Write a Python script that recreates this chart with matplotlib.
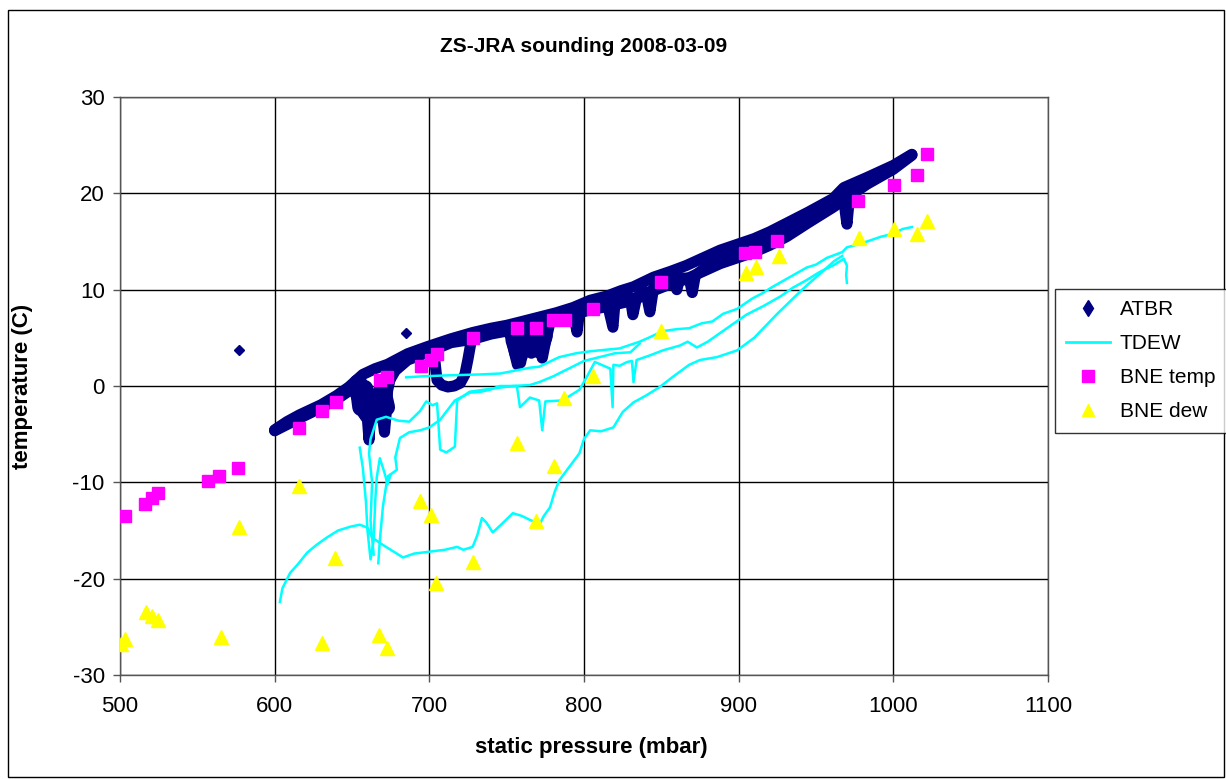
import matplotlib
matplotlib.use("Agg")
import matplotlib.pyplot as plt
from matplotlib.lines import Line2D
from matplotlib.patches import Rectangle

plt.rcParams['font.family'] = ['Liberation Sans', 'DejaVu Sans']
plt.rcParams['axes.unicode_minus'] = False

# ---------------- data ----------------
title = "ZS-JRA sounding 2008-03-09"
xlabel = "static pressure (mbar)"
ylabel = "temperature (C)"
x_ticks = [500, 600, 700, 800, 900, 1000, 1100]
y_ticks = [-30, -20, -10, 0, 10, 20, 30]
legend_labels = ["ATBR", "TDEW", "BNE temp", "BNE dew"]

# ATBR (aircraft temperature) - several passes forming a dense band
atbr_p_upper = [600, 608, 616, 630, 640, 648, 657, 665, 673, 686, 699, 714, 728, 740, 750, 760, 771,
                782, 793, 804, 815, 824, 832, 845, 856, 866, 877, 888, 899, 910, 920, 931, 945,
                961, 968, 983, 1000, 1012]
atbr_t_upper = [-4.55, -3.7, -3.0, -1.95, -1.0, -0.1, 1.2, 1.8, 2.25, 3.35, 4.1, 4.9, 5.55, 6.0, 6.3, 6.7, 7.15,
                7.6, 8.15, 8.9, 9.35, 9.9, 10.3, 11.3, 11.9, 12.5, 13.3, 14.1, 14.7, 15.3, 16.0, 16.9, 18.05,
                19.45, 20.6, 21.65, 22.9, 24.05]
atbr_p_lower = [600, 616, 630, 640, 650, 652, 655, 658, 661, 664, 667, 670, 674, 678, 686, 699, 714,
                728, 740, 750, 771, 793, 804, 815, 832, 845, 856, 866, 877, 888, 899, 910, 920, 931,
                945, 961, 983, 1000, 1012]
atbr_t_lower = [-4.65, -3.35, -2.25, -1.4, -0.3, 0.2, -2.0, -1.0, -1.5, -2.0, -0.5, -1.5, 0.5, 1.6, 2.7, 3.5, 4.5,
                4.85, 5.4, 5.7, 6.45, 7.45, 7.9, 8.25, 8.9, 9.9, 10.6, 11.1, 11.9, 12.7, 13.3, 13.9, 14.6, 15.5,
                16.95, 18.55, 20.95, 22.5, 23.95]
atbr_p_mid = [600, 616, 630, 640, 650, 654, 657, 660, 661, 662, 665, 668, 670, 671, 672, 673, 675, 676,
              686, 699, 703, 704, 705, 708, 712, 716, 720, 723, 725, 727, 728, 750, 753, 755, 757, 759,
              761, 764, 766, 768, 771, 773, 775, 778, 793, 795.5, 797, 815, 818.7, 820, 830, 831.6, 834,
              840, 842.6, 845, 858, 860, 862, 868, 870, 872, 888, 910, 931, 945, 961, 968, 969, 970,
              971, 972, 983, 1000, 1012]
atbr_t_mid = [-4.6, -3.2, -2.1, -1.2, 0.0, -1.5, -2.8, -3.5, -5.6, -3.0, -1.0, -2.5, -3.5, -4.8, -3.0, -0.5,
              1.0, 1.9, 3.0, 3.8, 3.6, 2.0, 0.6, 0.1, -0.1, 0.0, 0.3, 1.2, 2.8, 4.6, 5.2, 6.0, 5.0, 3.5,
              2.2, 2.4, 4.2, 5.2, 3.4, 5.0, 5.5, 2.9, 4.5, 6.6, 7.6, 5.6, 7.6, 8.6, 6.1, 8.6, 9.1, 7.4,
              9.2, 9.8, 7.7, 10.2, 11.0, 10.0, 11.2, 11.2, 9.7, 11.5, 13.4, 14.6, 16.2, 17.5, 19.0, 19.6,
              18.0, 16.8, 18.5, 19.8, 21.3, 22.7, 24.0]
# dense clusters (cold excursions) near 665 mbar and 765 mbar
atbr_p_blob1 = [654, 656, 658, 660, 662, 664, 666, 668, 670, 672]
atbr_t_blob1 = [0.3, -2.2, -0.3, -2.8, -1.2, -3.0, -1.5, -2.6, -0.8, -2.2]
atbr_p_blob2 = [755, 758, 761, 764, 767, 771, 774]
atbr_t_blob2 = [4.8, 3.2, 4.8, 4.0, 4.4, 3.8, 5.2]
atbr_p_iso = [577, 685]
atbr_t_iso = [3.7, 5.5]

# TDEW (aircraft dew point) - several ascent / descent traces
tdew_p_1 = [1012, 1006, 1000, 992, 983, 975, 970, 967, 957, 950, 944, 933, 922, 915, 909, 899, 890, 883,
            876, 868, 860, 851, 843, 836, 823, 810, 804, 795, 784, 771, 765, 746, 733, 711, 695, 685]
tdew_t_1 = [16.5, 16.3, 15.8, 15.5, 15.0, 14.6, 14.4, 13.9, 13.3, 12.6, 12.3, 11.3, 10.3, 9.6, 9.1, 8.0,
            7.5, 6.7, 6.5, 6.0, 5.9, 5.7, 5.1, 4.6, 3.9, 3.7, 3.6, 3.4, 3.0, 2.0, 1.9, 1.3, 1.2, 1.1,
            1.0, 0.9]
tdew_p_2 = [970, 969.5, 970, 968, 962, 952, 944, 935, 927, 916, 905, 896, 888, 880, 873, 867, 862, 851,
            843, 834, 832, 831, 828, 823, 819, 818.5, 817, 807, 802, 797, 786, 775, 773, 771, 765,
            758.6, 756.6, 745.6, 739, 733, 726, 716.5, 707, 700, 694, 687, 681, 678, 679, 673, 670,
            668, 667]
tdew_t_2 = [10.7, 11.5, 12.5, 13.2, 12.6, 11.8, 11.0, 10.2, 9.3, 8.3, 7.4, 6.4, 5.5, 4.6, 4.0, 4.6, 4.2,
            3.7, 3.2, 2.7, 0.4, 2.6, 2.5, 2.1, 2.2, -2.2, 1.8, 2.5, 1.0, -0.4, -1.5, -1.6, -4.6, -1.5,
            -1.2, -2.2, 0.0, 0.0, -0.4, -0.6, -0.7, -1.5, -3.5, -4.3, -4.6, -4.8, -5.4, -7.4, -8.7,
            -9.4, -12.5, -16.0, -18.4]
tdew_p_3 = [664, 662, 663, 661, 662, 666, 672, 680, 687, 694, 698, 702, 705, 707, 711, 716.5, 718, 726,
            739, 754, 765, 771, 780, 790, 800, 810, 820, 830, 836]
tdew_t_3 = [-17.5, -14.0, -10.0, -7.0, -5.5, -3.5, -3.2, -3.6, -3.7, -2.6, -1.6, -2.0, -1.8, -6.6, -6.9,
            -6.3, -1.5, -0.6, -0.3, 0.0, 0.1, 0.4, 1.0, 1.8, 2.6, 3.0, 3.4, 3.5, 4.4]
tdew_p_4 = [603.4, 605, 610, 615, 621, 627, 634, 641, 649, 655, 660, 663, 668, 673, 683, 690, 700, 710,
            718, 722, 728, 731, 734, 737, 741, 747, 754, 760, 765, 771.5, 774, 778, 781, 784, 790, 797,
            800, 804, 811, 819, 825, 832, 840, 849, 857, 868, 875, 886, 899, 910, 925, 941, 955, 962,
            967]
tdew_t_4 = [-22.4, -21.0, -19.4, -18.5, -17.3, -16.5, -15.7, -15.0, -14.6, -14.4, -14.7, -15.7, -16.3,
            -16.8, -17.8, -17.4, -17.2, -17.0, -16.7, -17.0, -16.7, -15.5, -13.7, -14.2, -15.2, -14.3,
            -13.2, -13.5, -13.9, -14.3, -13.5, -12.6, -11.0, -9.8, -8.5, -7.0, -5.5, -4.6, -4.7, -4.3,
            -2.7, -1.7, -1.0, -0.1, 0.9, 2.2, 2.7, 3.0, 3.7, 5.0, 7.5, 10.0, 12.0, 13.0, 13.5]
tdew_p_5 = [655, 657, 659, 660, 662, 664, 665, 666, 668, 671, 673, 675]
tdew_t_5 = [-6.4, -8.5, -12.0, -15.0, -18.0, -16.0, -12.0, -9.5, -7.5, -9.0, -10.2, -9.2]

# BNE radiosonde
bne_temp_p = [503, 516, 521, 524.5, 557, 564, 576, 616, 630.6, 639.6, 668, 672.6, 694.6, 701, 705,
              728, 756.6, 769, 780, 787.6, 806, 850, 904, 910.5, 925, 977, 1000.5, 1015, 1022]
bne_temp_t = [-13.5, -12.3, -11.6, -11.1, -9.9, -9.3, -8.5, -4.4, -2.6, -1.7, 0.6, 0.9, 2.1, 2.7, 3.3,
              5.0, 6.0, 6.0, 6.9, 6.9, 8.0, 10.8, 13.8, 13.9, 15.1, 19.2, 20.9, 21.9, 24.1]
bne_dew_p = [500.6, 503, 516.6, 520.5, 524.6, 565, 577, 616, 630.6, 639, 667.5, 672.6, 694, 701, 704,
             728, 756.6, 769, 780.5, 787, 806, 850, 904.6, 911, 926, 977.7, 1000.4, 1015, 1022]
bne_dew_t = [-26.8, -26.3, -23.5, -23.9, -24.3, -26.1, -14.6, -10.4, -26.7, -17.9, -25.8, -27.2, -11.9,
             -13.4, -20.5, -18.3, -5.9, -14.0, -8.3, -1.2, 1.0, 5.7, 11.7, 12.4, 13.5, 15.4, 16.3, 15.8,
             17.1]

# ---------------- style ----------------
NAVY = '#000080'
CYAN = '#00FFFF'
MAGENTA = '#FF00FF'
YELLOW = '#FFFF00'

W, H = 1226, 779
fig = plt.figure(figsize=(W / 100, H / 100), dpi=100)
fig.patch.set_facecolor('white')

L, R, T, B = 120, 1048, 97, 675
ax = fig.add_axes([L / W, 1 - B / H, (R - L) / W, (B - T) / H])

# ATBR band
for pp, tt in [(atbr_p_upper, atbr_t_upper), (atbr_p_lower, atbr_t_lower),
               (atbr_p_mid, atbr_t_mid)]:
    ax.plot(pp, tt, color=NAVY, lw=8, solid_capstyle='round', solid_joinstyle='round', zorder=3)
for pp, tt in [(atbr_p_blob1, atbr_t_blob1), (atbr_p_blob2, atbr_t_blob2)]:
    ax.plot(pp, tt, color=NAVY, lw=13, solid_capstyle='round', solid_joinstyle='round', zorder=3)
ax.plot(atbr_p_iso, atbr_t_iso, ls='none', marker='D', ms=5, color=NAVY, zorder=3)

# TDEW traces
for pp, tt in [(tdew_p_1, tdew_t_1), (tdew_p_2, tdew_t_2), (tdew_p_3, tdew_t_3),
               (tdew_p_4, tdew_t_4), (tdew_p_5, tdew_t_5)]:
    ax.plot(pp, tt, color=CYAN, lw=1.8, zorder=4)

ax.plot(bne_temp_p, bne_temp_t, ls='none', marker='s', ms=8.5, color=MAGENTA, mec=MAGENTA, zorder=5)
ax.plot(bne_dew_p, bne_dew_t, ls='none', marker='^', ms=9.5, color=YELLOW, mec=YELLOW, zorder=6)

ax.set_xlim(500, 1100)
ax.set_ylim(-30, 30)
ax.set_xticks(x_ticks)
ax.set_yticks(y_ticks)
ax.grid(True, color='black', lw=1.0, zorder=0)
ax.set_axisbelow(True)
for s in ax.spines.values():
    s.set_color('#555555')
    s.set_linewidth(1.0)
ax.tick_params(direction='out', length=5, width=1, color='#555555', labelsize=16, pad=6)
ax.tick_params(axis='x', pad=10)

ax.set_xlabel(xlabel, fontsize=16, fontweight='bold')
ax.set_ylabel(ylabel, fontsize=16, fontweight='bold')
ax.xaxis.set_label_coords((591 - L) / (R - L), (B - 748) / (B - T))
ax.yaxis.set_label_coords((23 - L) / (R - L), 0.5)
ax.xaxis.label.set_va('center')
ax.yaxis.label.set_va('center')

fig.text(584 / W, 1 - 47 / H, title, ha='center', va='center', fontsize=15, fontweight='bold')

handles = [Line2D([], [], color=NAVY, marker='d', ls='none', ms=8),
           Line2D([], [], color=CYAN, lw=2),
           Line2D([], [], color=MAGENTA, marker='s', ls='none', ms=8),
           Line2D([], [], color=YELLOW, marker='^', ls='none', ms=9)]
leg = fig.legend(handles, legend_labels, loc='upper left',
                 bbox_to_anchor=(1055 / W, 1 - 289 / H), bbox_transform=fig.transFigure,
                 frameon=True, fancybox=False, edgecolor='black', fontsize=15,
                 handlelength=2.1, labelspacing=0.72, borderpad=0.55, handletextpad=0.45,
                 borderaxespad=0)
leg.get_frame().set_linewidth(1.0)

fig.add_artist(Rectangle((8 / W, 1 - 777 / H), (1224 - 8) / W, (777 - 10) / H,
                         transform=fig.transFigure, fill=False, ec='black', lw=1.0))

fig.savefig('out.png', dpi=100)
